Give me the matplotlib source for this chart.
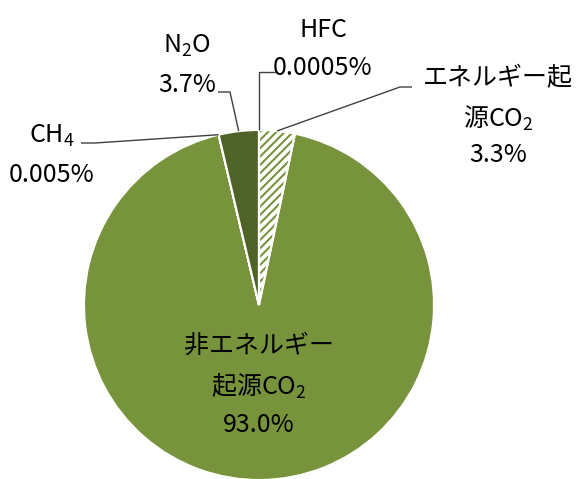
import matplotlib
matplotlib.use('Agg')
import matplotlib.pyplot as plt
from matplotlib.patches import Wedge
import numpy as np

plt.rcParams['font.family'] = ['Noto Sans CJK JP', 'DejaVu Sans']
plt.rcParams['mathtext.fontset'] = 'custom'
plt.rcParams['mathtext.rm'] = 'Noto Sans CJK JP'
plt.rcParams['mathtext.it'] = 'Noto Sans CJK JP'
plt.rcParams['hatch.linewidth'] = 1.5

# data (clockwise from 12 o'clock)
gases = ['エネルギー起源CO2', '非エネルギー起源CO2', 'CH4', 'N2O', 'HFC']
shares = [3.3, 93.0, 0.005, 3.7, 0.0005]
label_lines = [
    ['エネルギー起', '源CO$_2$', '3.3%'],
    ['非エネルギー', '起源CO$_2$', '93.0%'],
    ['CH$_4$', '0.005%'],
    ['N$_2$O', '3.7%'],
    ['HFC', '0.0005%'],
]
colors = ['white', '#77933C', '#77933C', '#4F6228', '#77933C']

W, H = 585, 479
GREEN = '#77933C'

fig = plt.figure(figsize=(W / 100, H / 100), dpi=100)
ax = fig.add_axes([0, 0, 1, 1])

cx, cy, r = 259, H - 305, 175
wedges, _ = ax.pie(shares, startangle=90, counterclock=False, colors=colors,
                   center=(cx, cy), radius=r,
                   wedgeprops=dict(edgecolor='white', linewidth=1.5))

# hatched slice: hatch takes the edge colour, so redo the white outline on top
w0 = wedges[0]
w0.set_edgecolor(GREEN)
w0.set_linewidth(0)
w0.set_hatch('////')
ax.add_patch(Wedge((cx, cy), r, w0.theta1, w0.theta2, fill=False,
                   edgecolor='white', linewidth=1.5, zorder=w0.get_zorder() + 0.1))

ax.set_xlim(0, W)
ax.set_ylim(0, H)
ax.set_aspect('equal')
ax.axis('off')


def edge_point(w):
    t = np.deg2rad((w.theta1 + w.theta2) / 2)
    return cx + r * np.cos(t), cy + r * np.sin(t)


# leader lines: (wedge index, elbow points in pixel coords from top)
leaders = [
    (0, [(400, 87), (412, 87)]),
    (2, [(95, 143), (81, 143)]),
    (3, [(230, 92), (218, 92)]),
    (4, [(None, 72), (275, 72)]),
]
for i, pts in leaders:
    ex, ey = edge_point(wedges[i])
    xs, ys = [ex], [ey]
    for px, py in pts:
        xs.append(ex if px is None else px)
        ys.append(H - py)
    ax.plot(xs, ys, color='#404040', lw=1, zorder=5, solid_capstyle='butt')

# label positions: centre x and baseline y of each line (pixels from top)
label_pos = [
    (498, [85, 127, 162]),
    (259, [353, 395, 432]),
    (52, [143, 182]),
    (187, [53, 92]),
    (323, [37, 75]),
]
for lines, (x, ys) in zip(label_lines, label_pos):
    for s, y in zip(lines, ys):
        ax.text(x, H - y, s, ha='center', va='baseline', fontsize=18,
                color='black', zorder=6)

fig.savefig('out.png', dpi=100)
